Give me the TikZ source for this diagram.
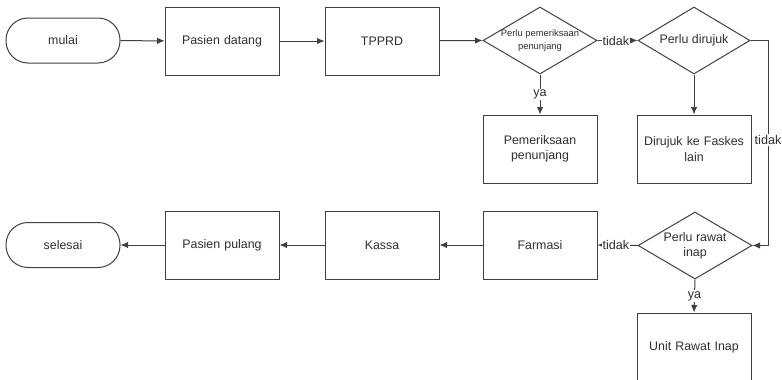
\documentclass[tikz,border=0pt]{standalone}
\usepackage{fontspec}
\setmainfont{Liberation Sans}
\usetikzlibrary{shapes.geometric,arrows.meta}

\tikzset{
  base/.style={draw=black!75, line width=1pt, text=black!82,
    font=\fontsize{12.4}{15.5}\selectfont, align=center},
  proc/.style={base, rectangle, minimum width=114pt, minimum height=68pt,
    inner sep=2pt, text width=106pt},
  term/.style={base, rectangle, rounded corners=22pt,
    minimum width=114pt, minimum height=45pt},
  dec/.style={base, diamond, inner sep=0pt,
    minimum width=114pt, minimum height=67pt},
  dectext/.style={text=black!82, align=center, inner sep=0pt},
  arr/.style={draw=black!75, line width=1pt,
    -{Latex[length=7.5pt, width=6.5pt]}},
  lbl/.style={fill=white, text=black!82, inner sep=1pt,
    font=\fontsize{12.6}{14}\selectfont},
}

\begin{document}
\begin{tikzpicture}[x=1pt, y=-1pt]
  \useasboundingbox (0,0) rectangle (782,380);

  % top row
  \node[term] (mulai) at (63,40.5) {mulai};
  \node[proc] (datang) at (222,41) {Pasien datang};
  \node[proc] (tpprd) at (382,41) {TPPRD};
  \node[dec] (cekpen) at (540,40.5) {};
  \node[dectext, font=\fontsize{9.4}{12.8}\selectfont] (cekpentxt) at (cekpen.center)
    {Perlu pemeriksaan\\penunjang};
  \node[dec, minimum width=112pt] (rujuk) at (694,40.5) {};
  \node[dectext, font=\fontsize{12.4}{15}\selectfont] (rujuktxt) at (rujuk.center)
    {Perlu dirujuk};

  % second row
  \node[proc] (penunjang) at (540,149) {Pemeriksaan\\penunjang};
  \node[proc] (faskes) at (694,149) {Dirujuk ke Faskes\\lain};

  % bottom row
  \node[term] (selesai) at (63,245) {selesai};
  \node[proc] (pulang) at (222,245) {Pasien pulang};
  \node[proc] (kassa) at (382,245) {Kassa};
  \node[proc] (farmasi) at (540,245) {Farmasi};
  \node[dec] (inap) at (695,245.5) {};
  \node[dectext, font=\fontsize{12.4}{15}\selectfont] (inaptxt) at (inap.center)
    {Perlu rawat\\inap};
  \node[proc] (uri) at (694,347) {Unit Rawat Inap};

  % bend points of the right-hand connector
  \coordinate (r1) at (768,40.5);
  \coordinate (r2) at (768,245.5);

  % connectors
  \draw[arr] (mulai) -- (datang);
  \draw[arr] (datang) -- (tpprd);
  \draw[arr] (tpprd) -- (cekpen.west);
  \draw[arr] (cekpen.east) -- node[lbl, pos=0.46] (t1) {tidak} (rujuk.west);
  \draw[arr] (cekpen.south) -- node[lbl] (y1) {ya} (penunjang.north);
  \draw[arr] (rujuk.south) -- (faskes.north);
  \draw[arr] (rujuk.east) -- (r1) -- node[lbl, pos=0.485] (t2) {tidak} (r2) -- (inap.east);
  \draw[arr] (inap.west) -- node[lbl, pos=0.54] (t3) {tidak} (farmasi.east);
  \draw[arr] (inap.south) -- node[lbl] (y2) {ya} (uri.north);
  \draw[arr] (farmasi) -- (kassa);
  \draw[arr] (kassa) -- (pulang);
  \draw[arr] (pulang) -- (selesai);
\end{tikzpicture}
\end{document}
